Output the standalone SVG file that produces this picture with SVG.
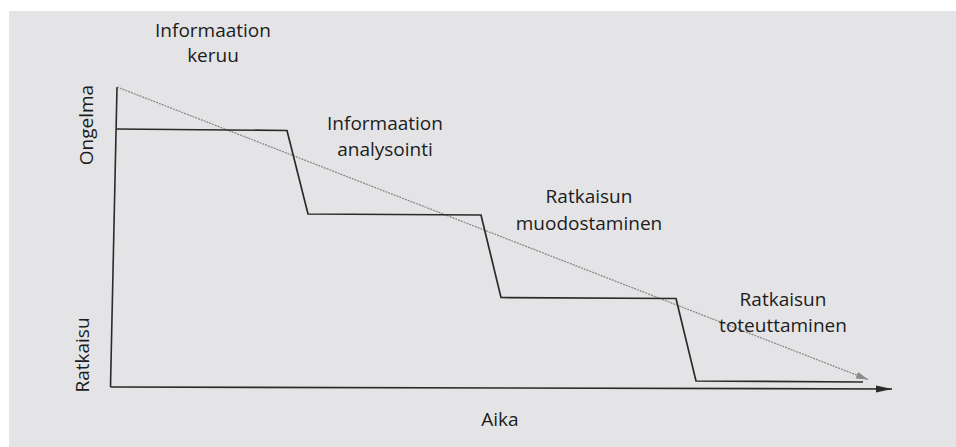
<svg xmlns="http://www.w3.org/2000/svg" width="956" height="447" viewBox="0 0 956 447">
  <style>
    .lbl { font-family: "Open Sans", "Noto Sans", sans-serif; font-size: 19px; fill: #1c1c1c; text-anchor: middle; }
    .axis { fill: none; stroke: #2a2a2a; stroke-width: 1.6; }
    .step { fill: none; stroke: #2a2a2a; stroke-width: 1.7; stroke-linejoin: miter; }
    .trend { fill: none; stroke: #8a8a8a; stroke-width: 1.3; stroke-dasharray: 2 1; }
  </style>
  <defs>
    <marker id="axisHead" markerWidth="16" markerHeight="8" refX="16" refY="4" orient="auto" markerUnits="userSpaceOnUse">
      <path d="M0,0.5 L16,4 L0,7.5 Z" fill="#2a2a2a"/>
    </marker>
    <marker id="trendHead" markerWidth="12" markerHeight="8" refX="12" refY="4" orient="auto" markerUnits="userSpaceOnUse">
      <path d="M0,0.5 L12,4 L0,7.5 Z" fill="#8a8a8a"/>
    </marker>
  </defs>

  <!-- page -->
  <rect x="0" y="0" width="956" height="447" fill="#ffffff"/>
  <rect x="9" y="11" width="947" height="436" fill="#e4e4e6"/>

  <!-- axes and curves -->
  <g id="connectors">
    <path id="y-axis" class="axis" d="M117,87 L110.5,387"/>
    <path id="x-axis" class="axis" d="M110.5,387 L892,389" marker-end="url(#axisHead)"/>
    <path id="trend" class="trend" d="M117,87 L868,379.5" marker-end="url(#trendHead)"/>
    <path id="steps" class="step" d="M116,129 L287,130.5 L308,214 L481,215 L501,297.5 L676,298.5 L696,381 L863,382"/>
  </g>

  <g id="axis-labels">
    <text class="lbl" transform="translate(93,125) rotate(-90)">Ongelma</text>
    <text class="lbl" transform="translate(89,355) rotate(-90)">Ratkaisu</text>
    <text class="lbl" x="500" y="426">Aika</text>
  </g>

  <g id="phase-keruu">
    <text class="lbl" x="213" y="37">Informaation</text>
    <text class="lbl" x="213" y="62">keruu</text>
  </g>
  <g id="phase-analysointi">
    <text class="lbl" x="385" y="130">Informaation</text>
    <text class="lbl" x="385" y="156">analysointi</text>
  </g>
  <g id="phase-muodostaminen">
    <text class="lbl" x="589" y="203">Ratkaisun</text>
    <text class="lbl" x="589" y="230">muodostaminen</text>
  </g>
  <g id="phase-toteuttaminen">
    <text class="lbl" x="783" y="306">Ratkaisun</text>
    <text class="lbl" x="783" y="332">toteuttaminen</text>
  </g>
</svg>
